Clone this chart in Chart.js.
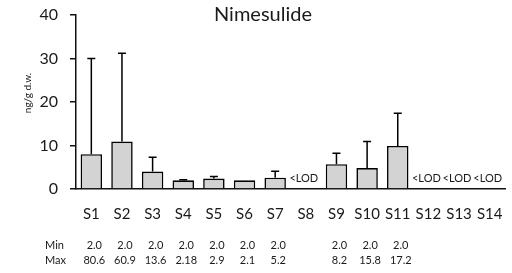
<!DOCTYPE html>
<html lang="en">
<head>
    <meta charset="UTF-8">
    <title>Nimesulide</title>
    <script src="https://cdn.jsdelivr.net/npm/chart.js"></script>
    <style>
        body { margin: 0; background: #ffffff; }
        #chart { display: block; }
    </style>
</head>
<body>
    <canvas id="chart" width="512" height="273"></canvas>
    <script>
        // data
        const sites = ['S1', 'S2', 'S3', 'S4', 'S5', 'S6', 'S7', 'S8', 'S9', 'S10', 'S11', 'S12', 'S13', 'S14'];
        const means = [8.0, 10.9, 4.0, 2.0, 2.4, 2.0, 2.6, null, 5.7, 4.8, 9.9, null, null, null];
        const sd = [22.0, 20.3, 3.3, 0.1, 0.5, 0, 1.5, null, 2.5, 6.1, 7.5, null, null, null];
        const minVals = ['2.0', '2.0', '2.0', '2.0', '2.0', '2.0', '2.0', '', '2.0', '2.0', '2.0', '', '', ''];
        const maxVals = ['80.6', '60.9', '13.6', '2.18', '2.9', '2.1', '5.2', '', '8.2', '15.8', '17.2', '', '', ''];
        const yTicks = [0, 10, 20, 30, 40];

        const fontName = 'Lato, "Open Sans", sans-serif';

        // upper error bars, <LOD labels, titles and min/max rows
        const extras = {
            id: 'extras',
            afterDatasetsDraw(chart) {
                const ctx = chart.ctx;
                const x = chart.scales.x;
                const y = chart.scales.y;
                ctx.save();
                ctx.strokeStyle = '#000';
                ctx.lineWidth = 1.5;
                means.forEach(function (v, i) {
                    if (v === null || !sd[i]) return;
                    const cx = x.getPixelForValue(i);
                    const top = y.getPixelForValue(v + sd[i]);
                    ctx.beginPath();
                    ctx.moveTo(cx, y.getPixelForValue(v));
                    ctx.lineTo(cx, top);
                    ctx.moveTo(cx - 4, top);
                    ctx.lineTo(cx + 4, top);
                    ctx.stroke();
                });
                ctx.fillStyle = '#1a1a1a';
                ctx.textAlign = 'center';
                ctx.textBaseline = 'middle';
                ctx.font = '11px ' + fontName;
                means.forEach(function (v, i) {
                    if (v === null) ctx.fillText('<LOD', x.getPixelForValue(i) - 2, y.getPixelForValue(0) - 11);
                });
                ctx.font = '20px ' + fontName;
                ctx.fillText('Nimesulide', 263, 15);
                ctx.font = '11px ' + fontName;
                ctx.textAlign = 'left';
                ctx.fillText('Min', 45, 245);
                ctx.fillText('Max', 45, 260);
                ctx.textAlign = 'center';
                sites.forEach(function (s, i) {
                    const cx = x.getPixelForValue(i) + 3;
                    ctx.fillText(minVals[i], cx, 245);
                    ctx.fillText(maxVals[i], cx, 260);
                });
                // y axis title
                ctx.save();
                ctx.translate(28, 93);
                ctx.rotate(-Math.PI / 2);
                ctx.font = '10px ' + fontName;
                ctx.fillText('ng/g d.w.', 0, 0);
                ctx.restore();
                ctx.restore();
            }
        };

        new Chart(document.getElementById('chart'), {
            type: 'bar',
            data: {
                labels: sites,
                datasets: [{
                    label: 'Nimesulide',
                    data: means,
                    backgroundColor: '#d3d3d3',
                    borderColor: '#000',
                    borderWidth: 1.6,
                    barPercentage: 0.7,
                    categoryPercentage: 1.0
                }]
            },
            options: {
                responsive: false,
                animation: false,
                layout: { padding: { left: 0, right: 7, top: 15, bottom: 0 } },
                plugins: {
                    legend: { display: false },
                    tooltip: { enabled: false },
                    title: { display: false }
                },
                scales: {
                    x: {
                        grid: { display: false },
                        border: { display: true, color: '#111', width: 1.5 },
                        ticks: {
                            color: '#1a1a1a',
                            font: { family: fontName, size: 15 },
                            padding: 8,
                            maxRotation: 0,
                            autoSkip: false
                        },
                        afterFit(scale) { scale.height = 84; }
                    },
                    y: {
                        min: 0,
                        max: 40,
                        afterBuildTicks(scale) { scale.ticks = yTicks.map(v => ({ value: v })); },
                        afterFit(scale) {
                            scale.width = 76;
                            scale.paddingTop = 0;
                            scale.paddingBottom = 0;
                        },
                        grid: {
                            drawOnChartArea: false,
                            drawTicks: true,
                            tickLength: 6,
                            color: '#111',
                            lineWidth: 1.5
                        },
                        border: { display: true, color: '#111', width: 1.5 },
                        ticks: {
                            color: '#1a1a1a',
                            font: { family: fontName, size: 16 },
                            padding: 12
                        }
                    }
                }
            },
            plugins: [extras]
        });
    </script>
</body>
</html>
